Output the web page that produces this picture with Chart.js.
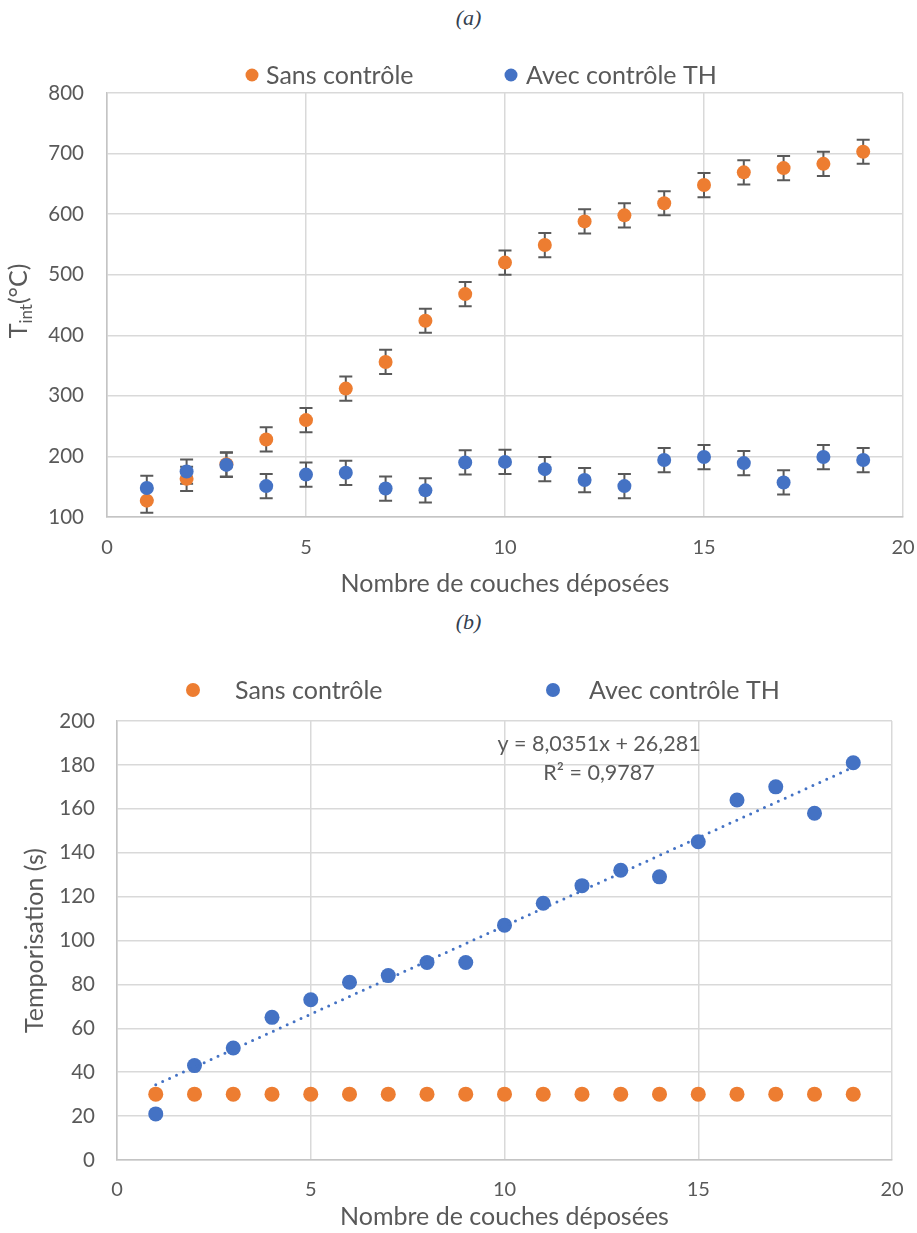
<!DOCTYPE html>
<html>
<head>
<meta charset="utf-8">
<script src="https://cdn.jsdelivr.net/npm/chart.js@4.4.0/dist/chart.umd.min.js"></script>
<style>
  body { margin: 0; background: #fff; width: 917px; height: 1233px; position: relative; overflow: hidden; }
  .cap { position: absolute; left: 0; width: 937px; text-align: center;
         font: italic 22px "Liberation Serif", "DejaVu Serif", serif; color: #34404f; }
  #wrapA { position: absolute; left: 0; top: 40px; width: 917px; height: 560px; }
  #wrapB { position: absolute; left: 0; top: 640px; width: 917px; height: 593px; }
</style>
</head>
<body>
<div class="cap" style="top:5px">(a)</div>
<div class="cap" style="top:609px">(b)</div>
<div id="wrapA"><canvas id="chartA"></canvas></div>
<div id="wrapB"><canvas id="chartB"></canvas></div>

<script>
// --- data ---
const couches = [1, 2, 3, 4, 5, 6, 7, 8, 9, 10, 11, 12, 13, 14, 15, 16, 17, 18, 19];

// (a) interface temperature, °C
const tintSans = [127, 163, 187, 228, 260, 312, 356, 424, 468, 520, 549, 588, 598, 618, 648, 669, 676, 683, 703];
const tintAvec = [148, 175, 186, 151, 170, 173, 147, 144, 190, 191, 179, 161, 151, 194, 199, 189, 157, 199, 194];
const errSans  = [20, 20, 20, 20, 20, 20, 20, 20, 20, 20, 20, 20, 20, 20, 20, 20, 20, 20, 20];
const errAvec  = [20, 20, 20, 20, 20, 20, 20, 20, 20, 20, 20, 20, 20, 20, 20, 20, 20, 20, 20];

// (b) temporisation, s
const tempoSans = [30, 30, 30, 30, 30, 30, 30, 30, 30, 30, 30, 30, 30, 30, 30, 30, 30, 30, 30];
const tempoAvec = [21, 43, 51, 65, 73, 81, 84, 90, 90, 107, 117, 125, 132, 129, 145, 164, 170, 158, 181];

// linear trend printed on the chart
const pente = 8.0351;
const origine = 26.281;
const r2 = 0.9787;

const labels = ["Sans contrôle", "Avec contrôle TH"];
const ORANGE = "#ED7D31";
const BLUE = "#4472C4";
const TXT = "#595959";
const GRID = "#d9d9d9";

Chart.defaults.font.family = "Lato, 'Noto Sans', sans-serif";
Chart.defaults.color = TXT;

const pts = (xs, ys) => xs.map((x, i) => ({ x: x, y: ys[i] }));
const virgule = v => String(v).replace(".", ",");

// --- plugins ---
const errorBars = {
    id: "errorBars",
    beforeDatasetsDraw(chart) {
        const ctx = chart.ctx, xs = chart.scales.x, ys = chart.scales.y;
        ctx.save();
        ctx.strokeStyle = "#595959";
        ctx.lineWidth = 2;
        chart.data.datasets.forEach(ds => {
            if (!ds.erreurs) return;
            ds.data.forEach((p, i) => {
                const e = ds.erreurs[i];
                const px = xs.getPixelForValue(p.x);
                const top = ys.getPixelForValue(p.y + e);
                const bot = ys.getPixelForValue(p.y - e);
                ctx.beginPath();
                ctx.moveTo(px, top); ctx.lineTo(px, bot);
                ctx.moveTo(px - 6.5, top); ctx.lineTo(px + 6.5, top);
                ctx.moveTo(px - 6.5, bot); ctx.lineTo(px + 6.5, bot);
                ctx.stroke();
            });
        });
        ctx.restore();
    }
};

const dotLegend = {
    id: "dotLegend",
    afterDraw(chart, args, opts) {
        const ctx = chart.ctx;
        ctx.save();
        ctx.font = opts.size + "px Lato";
        ctx.textBaseline = "middle";
        ctx.textAlign = "left";
        opts.items.forEach((it, i) => {
            const ds = chart.data.datasets[i];
            ctx.fillStyle = ds.backgroundColor;
            ctx.beginPath();
            ctx.arc(it.dot, opts.y, opts.r, 0, Math.PI * 2);
            ctx.fill();
            ctx.fillStyle = TXT;
            ctx.fillText(ds.label, it.text, opts.y + 1);
        });
        ctx.restore();
    }
};

const yTitleSub = {
    id: "yTitleSub",
    afterDraw(chart, args, opts) {
        const ctx = chart.ctx, area = chart.chartArea;
        const cy = (area.top + area.bottom) / 2 + opts.dy;
        ctx.save();
        ctx.translate(opts.x, cy);
        ctx.rotate(-Math.PI / 2);
        ctx.fillStyle = TXT;
        ctx.textBaseline = "middle";
        const big = opts.size + "px Lato", small = Math.round(opts.size * 0.68) + "px Lato";
        ctx.font = big; const w1 = ctx.measureText(opts.main).width, w3 = ctx.measureText(opts.rest).width;
        ctx.font = small; const w2 = ctx.measureText(opts.sub).width;
        let x0 = -(w1 + w2 + w3) / 2;
        ctx.font = big; ctx.fillText(opts.main, x0, 0);
        ctx.font = small; ctx.fillText(opts.sub, x0 + w1, opts.size * 0.3);
        ctx.font = big; ctx.fillText(opts.rest, x0 + w1 + w2, 0);
        ctx.restore();
    }
};

const trendLabel = {
    id: "trendLabel",
    afterDraw(chart, args, opts) {
        const ctx = chart.ctx;
        ctx.save();
        ctx.font = opts.size + "px Lato";
        ctx.fillStyle = TXT;
        ctx.textAlign = "center";
        ctx.textBaseline = "middle";
        opts.lines.forEach(l => ctx.fillText(l.text, l.x, l.y));
        ctx.restore();
    }
};

// tick gap done with an invisible tick mark, so the label gap does not widen the right padding
const axisX = (height, gap) => ({
    type: "linear", min: 0, max: 20,
    ticks: { stepSize: 5, padding: 0, font: { size: 20 } },
    grid: { color: GRID, lineWidth: 1.5, drawTicks: true, tickLength: gap, tickColor: "rgba(0,0,0,0)" },
    border: { color: "#c4c4c4", width: 1.5 },
    title: { display: true, text: "Nombre de couches déposées", font: { size: 25 }, padding: { top: 0, bottom: 1 } },
    afterFit: s => { s.height = height; }
});

// --- chart (a) ---
new Chart(document.getElementById("chartA"), {
    type: "scatter",
    data: {
        datasets: [
            { label: labels[0], data: pts(couches, tintSans), erreurs: errSans, order: 1,
              backgroundColor: ORANGE, pointRadius: 7, pointBorderWidth: 0 },
            { label: labels[1], data: pts(couches, tintAvec), erreurs: errAvec, order: 0,
              backgroundColor: BLUE, pointRadius: 7, pointBorderWidth: 0 }
        ]
    },
    options: {
        responsive: true, maintainAspectRatio: false, animation: false,
        layout: { padding: { top: 53, right: 14, left: 0, bottom: 0 } },
        scales: {
            x: axisX(83, 19),
            y: {
                min: 100, max: 800,
                ticks: { stepSize: 100, padding: 23, font: { size: 20.5 } },
                grid: { color: GRID, lineWidth: 1.5, drawTicks: false },
                border: { color: "#c4c4c4", width: 1.5 },
                afterFit: s => { s.width = 107; }
            }
        },
        plugins: {
            legend: { display: false },
            tooltip: { enabled: false },
            dotLegend: { y: 35, r: 6.5, size: 25, items: [{ dot: 252, text: 266 }, { dot: 511, text: 526 }] },
            yTitleSub: { x: 19, dy: -4, size: 25, main: "T", sub: "int", rest: "(°C)" }
        }
    },
    plugins: [errorBars, dotLegend, yTitleSub]
});

// --- chart (b) ---
const x1 = couches[0], x2 = couches[couches.length - 1];
new Chart(document.getElementById("chartB"), {
    type: "scatter",
    data: {
        datasets: [
            { label: labels[0], data: pts(couches, tempoSans), order: 2,
              backgroundColor: ORANGE, pointRadius: 7.5, pointBorderWidth: 0 },
            { label: labels[1], data: pts(couches, tempoAvec), order: 1,
              backgroundColor: BLUE, pointRadius: 7.5, pointBorderWidth: 0 },
            { label: "Linéaire", type: "line", order: 0,
              data: [{ x: x1, y: pente * x1 + origine }, { x: x2, y: pente * x2 + origine }],
              borderColor: BLUE, borderWidth: 3, borderDash: [0, 7.6], borderCapStyle: "round",
              pointRadius: 0, fill: false }
        ]
    },
    options: {
        responsive: true, maintainAspectRatio: false, animation: false,
        layout: { padding: { top: 81, right: 25, left: 0, bottom: 0 } },
        scales: {
            x: axisX(73, 18),
            y: {
                min: 0, max: 200,
                ticks: { stepSize: 20, padding: 22, font: { size: 20.5 } },
                grid: { color: GRID, lineWidth: 1.5, drawTicks: false },
                border: { color: "#c4c4c4", width: 1.5 },
                title: { display: true, text: "Temporisation (s)", font: { size: 25 }, padding: { top: 20, bottom: 0 } },
                afterFit: s => { s.width = 117; }
            }
        },
        plugins: {
            legend: { display: false },
            tooltip: { enabled: false },
            dotLegend: { y: 50, r: 7, size: 25, items: [{ dot: 193, text: 235 }, { dot: 553, text: 589 }] },
            trendLabel: { size: 21.5, lines: [
                { text: "y = " + virgule(pente) + "x + " + virgule(origine), x: 599, y: 104 },
                { text: "R² = " + virgule(r2), x: 599, y: 133 }
            ] }
        }
    },
    plugins: [dotLegend, trendLabel]
});
</script>
</body>
</html>
